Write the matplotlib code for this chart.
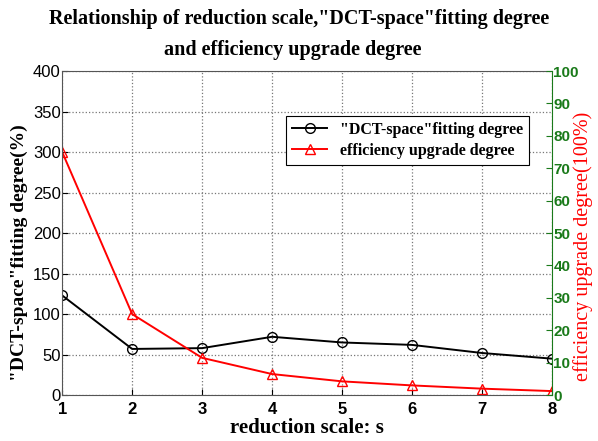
import matplotlib
matplotlib.use('Agg')
from matplotlib import pyplot as pl

s = [1, 2, 3, 4, 5, 6, 7, 8]
fitting = [123, 57, 58, 72, 65, 62, 52, 45]
upgrade = [300, 100, 46, 26, 17, 12, 8, 5]
left_ticks = [0, 50, 100, 150, 200, 250, 300, 350, 400]
right_ticks = [0, 10, 20, 30, 40, 50, 60, 70, 80, 90, 100]

serif = ['Liberation Serif', 'DejaVu Serif']
pl.rcParams['font.family'] = ['Liberation Sans', 'DejaVu Sans']
green = '#1a7a1a'

fig = pl.figure(figsize=(5.98, 4.41), dpi=100)
ax = fig.add_axes([0.104, 0.104, 0.819, 0.735])
ax.plot(s, fitting, color='black', marker='o', markersize=7, markerfacecolor='none', lw=1.4,
        label='"DCT-space"fitting degree')
ax.plot(s, upgrade, color='red', marker='^', markersize=7, markerfacecolor='none', lw=1.4,
        label='efficiency upgrade degree')
ax.set_xlim(1, 8)
ax.set_ylim(0, 400)
ax.set_xticks(s)
ax.set_yticks(left_ticks)
ax.grid(True, linestyle=':', color='#777777', lw=0.9)
ax.tick_params(axis='y', direction='in', labelsize=12, pad=1, length=4)
ax.tick_params(axis='x', direction='in', labelsize=12, pad=5, length=4)
for t in ax.get_xticklabels():
    t.set_fontweight('bold')
for sp in ['top', 'left', 'bottom']:
    ax.spines[sp].set_color('#555555')
ax.spines['right'].set_visible(False)
ax.set_xlabel('reduction scale: s', family=serif, fontweight='bold', fontsize=15, labelpad=1)
ax.set_ylabel('"DCT-space"fitting degree(%)', family=serif, fontweight='bold', fontsize=14)
ax.yaxis.set_label_coords(-0.069, 0.44)

ax2 = ax.twinx()
ax2.set_ylim(0, 100)
ax2.set_yticks(right_ticks)
ax2.tick_params(direction='in', colors=green, labelsize=11, pad=1, length=4)
for t in ax2.get_yticklabels():
    t.set_fontweight('bold')
ax2.spines['right'].set_color(green)
for sp in ['top', 'left', 'bottom']:
    ax2.spines[sp].set_visible(False)
ax2.set_ylabel('efficiency upgrade degree(100%)', color='red', family=serif, fontsize=14.5)
ax2.yaxis.set_label_coords(1.043, 0.46)

leg = ax.legend(loc='upper left', bbox_to_anchor=(0.44, 0.887), prop={'family': serif, 'weight': 'bold', 'size': 11.5},
                fancybox=False, edgecolor='black', framealpha=1, handlelength=2.2, borderpad=0.4, labelspacing=0.3)
leg.get_frame().set_linewidth(0.8)

fig.text(0.50, 0.958, 'Relationship of reduction scale,"DCT-space"fitting degree', ha='center', va='center',
         family=serif, fontsize=14.5, fontweight='bold')
fig.text(0.49, 0.887, 'and efficiency upgrade degree', ha='center', va='center', family=serif, fontsize=14.5,
         fontweight='bold')

fig.savefig('out.png', dpi=100)
